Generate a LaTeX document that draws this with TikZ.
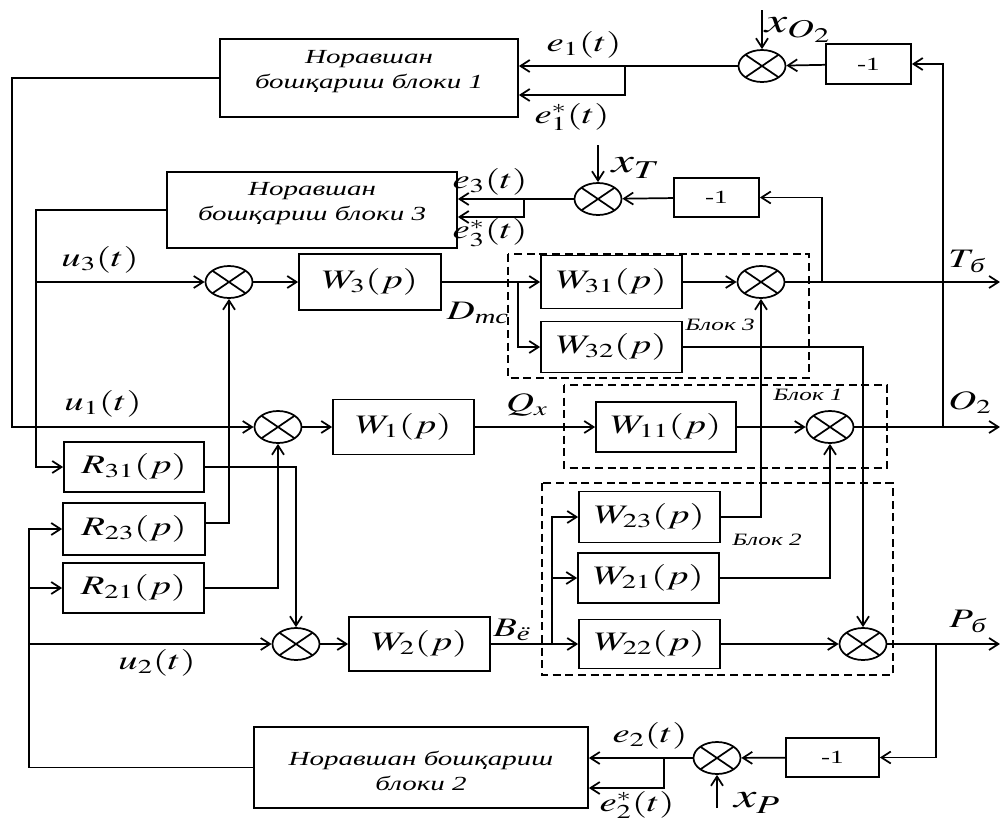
\documentclass[tikz,border=0pt]{standalone}
\usepackage{amsmath}
\usepackage{mathptmx}
\usepackage[no-math]{fontspec}
\setmainfont{Liberation Serif}
\usepackage{graphicx}
\usetikzlibrary{arrows.meta,shapes.geometric,calc}
\newcommand{\sx}[1]{\scalebox{1.45}[1]{#1}}
\newcommand{\shiftup}[2]{\raisebox{#1}[\height][\depth]{#2}}
\tikzset{
  ln/.style={line width=1.3pt},
  arr/.style={line width=1.3pt,-{Straight Barb[length=7pt,width=9pt,line width=1.3pt]}},
  wh/.style 2 args={minimum width=#1*0.75pt, minimum height=#2*0.75pt},
  box/.style={draw, line width=1.3pt, inner sep=0pt, font=\fontsize{20}{24}\selectfont},
  fbox/.style={draw, line width=1.3pt, inner sep=0pt, font=\itshape\fontsize{15}{18.75}\selectfont, align=center},
  mbox/.style={draw, line width=1.3pt, inner sep=0pt, font=\fontsize{14}{16}\selectfont},
  sumj/.style={ellipse, draw, line width=1.3pt, minimum width=35.25pt, minimum height=24pt, inner sep=0pt,
    path picture={\draw[line width=1.3pt] (path picture bounding box.north west)--(path picture bounding box.south east)
      (path picture bounding box.north east)--(path picture bounding box.south west);}},
  lab/.style={inner sep=0pt, font=\fontsize{20}{24}\selectfont},
  xlab/.style={inner sep=0pt, font=\fontsize{26}{30}\selectfont},
  blk/.style={inner sep=0pt, font=\itshape\fontsize{13}{15}\selectfont},
  dbox/.style={draw, line width=1.1pt, dash pattern=on 6pt off 3.5pt}
}
\begin{document}
\begin{tikzpicture}[x=0.75pt,y=-0.75pt]
\useasboundingbox (0,0) rectangle (1000,822);

% dashed blocks
\draw[dbox] (508,254) rectangle (809,378);
\draw[dbox] (564,385) rectangle (887,468);
\draw[dbox] (542,483) rectangle (893,675);

% fuzzy controller blocks
\node[fbox, wh={298}{78}] (nb1) at (369,78) {\shiftup{5.6pt}{\begin{tabular}{@{}c@{}}\sx{Норавшан}\\\sx{бошқариш блоки 1}\end{tabular}}};
\node[fbox, wh={290}{76}] (nb3) at (312,210) {\shiftup{5.2pt}{\begin{tabular}{@{}c@{}}\sx{Норавшан}\\\sx{бошқариш блоки 3}\end{tabular}}};
\node[fbox, wh={334}{81}] (nb2) at (421,767.5) {\shiftup{-4pt}{\begin{tabular}{@{}c@{}}\sx{Норавшан бошқариш}\\\sx{блоки 2}\end{tabular}}};

% -1 blocks
\node[mbox, wh={85}{40}] (m1) at (868.5,64) {\sx{-1}};
\node[mbox, wh={85}{39}] (mT) at (716.5,197.5) {\sx{-1}};
\node[mbox, wh={93}{39}] (mP) at (832.5,757.5) {\sx{-1}};

% summing junctions
\node[sumj] (sO2) at (762,66) {};
\node[sumj] (sT) at (598,199) {};
\node[sumj] (s3) at (229,282) {};
\node[sumj] (s31) at (761,282) {};
\node[sumj] (s1) at (278,427) {};
\node[sumj] (s11) at (830,427) {};
\node[sumj] (s2) at (296,644) {};
\node[sumj] (s22) at (863,644) {};
\node[sumj] (sP) at (717,758) {};

% transfer function blocks
\node[box, wh={142}{56}] (W3) at (370,282) {\sx{$W_{3}(p)$}};
\node[box, wh={141}{53}] (W31) at (611.5,282) {\sx{$W_{31}(p)$}};
\node[box, wh={141}{51}] (W32) at (611.5,347) {\sx{$W_{32}(p)$}};
\node[box, wh={141}{55}] (W1) at (403.5,427) {\sx{$W_{1}(p)$}};
\node[box, wh={140}{50}] (W11) at (666,427) {\sx{$W_{11}(p)$}};
\node[box, wh={141}{51}] (W23) at (649.5,517) {\sx{$W_{23}(p)$}};
\node[box, wh={141}{50}] (W21) at (648.5,578) {\sx{$W_{21}(p)$}};
\node[box, wh={141}{49}] (W22) at (649.5,644) {\sx{$W_{22}(p)$}};
\node[box, wh={141}{54}] (W2) at (419.5,644) {\sx{$W_{2}(p)$}};
\node[box, wh={140}{50}] (R31) at (134,467) {\sx{$R_{31}(p)$}};
\node[box, wh={142}{52}] (R23) at (134,529) {\sx{$R_{23}(p)$}};
\node[box, wh={141}{50}] (R21) at (133.5,588) {\sx{$R_{21}(p)$}};

% coordinates
\coordinate (c1) at (12,427);
\coordinate (c3) at (36,467);
\coordinate (j3) at (36,282);
\coordinate (c2) at (29,529);
\coordinate (j21) at (29,588);
\coordinate (j2) at (29,644);
\coordinate (j31) at (518,282);
\coordinate (oT) at (1000,282);
\coordinate (jT) at (822,282);
\coordinate (je3) at (524,199);
\coordinate (xTin) at (598,145);
\coordinate (je1) at (625,66);
\coordinate (xOin) at (762,10);
\coordinate (oO) at (1000,427);
\coordinate (jO) at (943,427);
\coordinate (jB) at (552,644);
\coordinate (oP) at (1000,644);
\coordinate (jP) at (936,644);
\coordinate (je2) at (664,758);
\coordinate (xPin) at (717,808);

% top loop (O2)
\draw[arr] (jO) |- (m1);
\draw[arr] (m1) -- (sO2);
\draw[arr] (xOin) -- (sO2);
\draw[arr] (sO2) -- (sO2 -| nb1.east);
\draw[arr] (je1) |- ($(nb1.east)+(0,17)$);
\draw[arr] (nb1.west) -| (c1) -- (s1);

% T loop
\draw[arr] (jT) |- (mT);
\draw[arr] (mT) -- (sT);
\draw[arr] (xTin) -- (sT);
\draw[arr] (sT) -- (sT -| nb3.east);
\draw[arr] (je3) |- ($(nb3.east)+(0,7)$);
\draw[arr] (nb3.west) -| (c3) -- (R31);
\draw[arr] (j3) -- (s3);

% P loop
\draw[arr] (jP) |- (mP);
\draw[arr] (mP) -- (sP);
\draw[arr] (xPin) -- (sP);
\draw[arr] (sP) -- (sP -| nb2.east);
\draw[arr] (je2) |- ($(nb2.east)+(0,20.5)$);
\draw[arr] (nb2.west) -| (c2) -- (R23);
\draw[arr] (j21) -- (R21);
\draw[arr] (j2) -- (s2);

% cross couplings
\draw[arr] (R31) -| (s2);
\draw[arr] ($(R23.east)+(0,-6)$) -| (s3);
\draw[arr] (R21) -| (s1);

% forward paths
\draw[arr] (s3) -- (W3);
\draw[ln] (W3) -- (j31);
\draw[arr] (j31) -- (W31);
\draw[arr] (j31) |- (W32);
\draw[arr] (W31) -- (s31);
\draw[arr] (s31) -- (oT);
\draw[arr] (W32) -| (s22);

\draw[arr] (s1) -- (W1);
\draw[arr] (W1) -- (W11);
\draw[arr] (W11) -- (s11);
\draw[arr] (s11) -- (oO);

\draw[arr] (s2) -- (W2);
\draw[ln] (W2) -- (jB);
\draw[arr] (jB) -- (W22);
\draw[arr] (jB) |- (W21);
\draw[arr] (jB) |- (W23);
\draw[arr] (W22) -- (s22);
\draw[arr] (s22) -- (oP);
\draw[arr] (W23) -| (s31);
\draw[arr] (W21) -| (s11);

% labels
\node[lab] (le1) at (584,45) {\sx{$e_{1}(t)$}};
\node[lab] (le1s) at (572,117) {\sx{$e_{1}^{*}(t)$}};
\node[lab] (le3) at (490,182) {\sx{$e_{3}(t)$}};
\node[lab] (le3s) at (490,233) {\sx{$e_{3}^{*}(t)$}};
\node[lab] (le2) at (650,736) {\sx{$e_{2}(t)$}};
\node[lab] (le2s) at (637,805) {\sx{$e_{2}^{*}(t)$}};
\node[xlab] (lxO) at (798,30) {\sx{$x_{O_2}$}};
\node[xlab] (lxT) at (636,168) {\sx{$x_{T}$}};
\node[xlab] (lxP) at (757,803) {\sx{$x_{P}$}};
\node[lab] (lu3) at (100,260) {\sx{$u_{3}(t)$}};
\node[lab] (lu1) at (103,404) {\sx{$u_{1}(t)$}};
\node[lab] (lu2) at (157,663) {\sx{$u_{2}(t)$}};
\node[lab] (lD) at (478,313) {\sx{$D_{\text{\itshape тс}}$}};
\node[lab] (lQ) at (527,405) {\sx{$Q_{x}$}};
\node[lab] (lB) at (512,630) {\sx{$B_{\text{\itshape ё}}$}};
\node[lab] (lT) at (967,261) {\sx{$T_{\,\text{\itshape б}}$}};
\node[lab] (lO) at (970,403) {\sx{$O_{2}$}};
\node[lab] (lP) at (968,621) {\sx{$P_{\,\text{\itshape б}}$}};
\node[blk] (b3) at (720,325) {\sx{Блок 3}};
\node[blk] (b1) at (808,395) {\sx{Блок 1}};
\node[blk] (b2) at (767,540) {\sx{Блок 2}};
\end{tikzpicture}
\end{document}
